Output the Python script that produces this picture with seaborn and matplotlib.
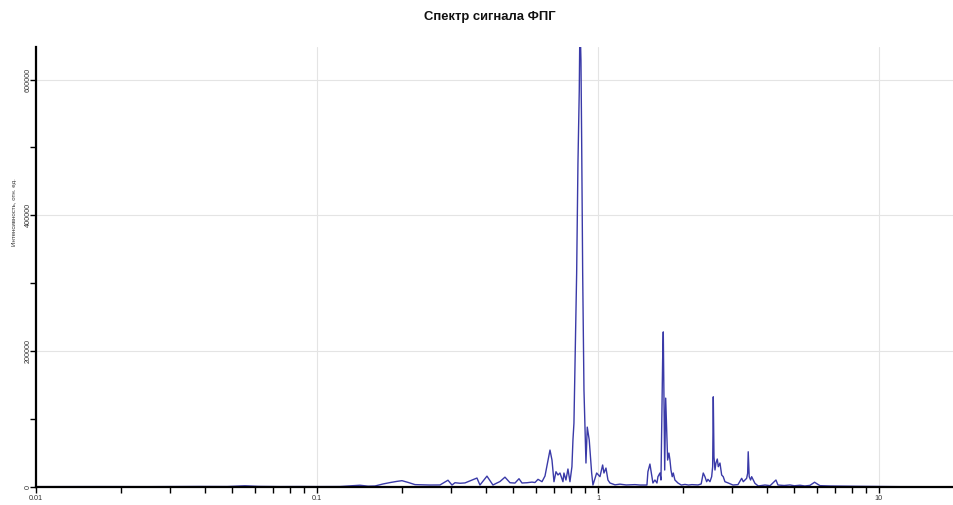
import matplotlib
matplotlib.use("Agg")
import matplotlib.pyplot as plt
import matplotlib.ticker as mticker
import seaborn as sns
import pandas as pd

# PPG signal spectrum: frequency (Hz) and intensity (arb. units)
freq_hz = [
    0.010, 0.0169, 0.0250, 0.0383, 0.0480, 0.0554, 0.0620, 0.0739, 0.0850, 0.100,
    0.1208, 0.1422, 0.1520, 0.1609, 0.1720, 0.1819, 0.1920, 0.2007, 0.2120, 0.2233,
    0.2524, 0.2740, 0.2926, 0.3023, 0.3098, 0.3230, 0.3363, 0.3710, 0.3802, 0.4027,
    0.4229, 0.4350, 0.4479, 0.4667, 0.4863, 0.5066, 0.5236, 0.5365, 0.5590, 0.5824,
    0.5969, 0.6118, 0.6322, 0.6479, 0.6750, 0.6861, 0.6974, 0.7089, 0.7206, 0.7325,
    0.7507, 0.7568, 0.7693, 0.7820, 0.7950, 0.8079, 0.8147, 0.8214, 0.8398, 0.8488,
    0.8580, 0.8629, 0.8700, 0.8750, 0.8823, 0.8917, 0.9064, 0.9161, 0.9311, 0.9497,
    0.9598, 0.9894, 1.0165, 1.0392, 1.0505, 1.0678, 1.0854, 1.1033, 1.150, 1.1976,
    1.260, 1.354, 1.411, 1.494, 1.506, 1.531, 1.556, 1.569, 1.595, 1.622,
    1.635, 1.662, 1.676, 1.690, 1.699, 1.708, 1.718, 1.728, 1.742, 1.756,
    1.770, 1.789, 1.804, 1.819, 1.838, 1.854, 1.879, 1.906, 1.926, 1.980,
    2.040, 2.100, 2.160, 2.270, 2.330, 2.370, 2.403, 2.437, 2.463, 2.504,
    2.539, 2.560, 2.573, 2.588, 2.609, 2.630, 2.659, 2.681, 2.718, 2.756,
    2.792, 2.831, 2.909, 3.023, 3.150, 3.247, 3.290, 3.335, 3.382, 3.410,
    3.426, 3.454, 3.494, 3.524, 3.570, 3.620, 3.719, 3.929, 4.100, 4.300,
    4.372, 4.600, 4.824, 5.000, 5.236, 5.450, 5.681, 5.900, 6.166, 6.691,
    7.568, 8.560, 10.08, 11.88, 18.49,
]
intensity = [
    500, 600, 500, 800, 700, 1800, 900, 600, 700, 600,
    700, 2600, 1200, 1500, 4500, 6500, 8200, 9300, 6500, 3500,
    2900, 3000, 10000, 2900, 6300, 5500, 6000, 13200, 2900, 16000,
    2900, 5500, 8000, 14500, 6300, 5800, 12200, 5900, 6300, 7200,
    6600, 11300, 7800, 16200, 54400, 39700, 7800, 22500, 17700, 20600,
    7800, 20600, 10300, 26500, 7800, 29900, 69100, 94100, 314700, 476500,
    583800, 690000, 627900, 510300, 314700, 142700, 35300, 88200, 69100, 20600,
    2900, 20600, 15200, 32400, 20600, 27900, 10300, 5900, 3200, 4200,
    3000, 3500, 2900, 2900, 22500, 33800, 15200, 5900, 10300, 5900,
    15200, 20600, 10300, 123500, 186800, 228400, 123500, 25000, 130900, 83800,
    39700, 50000, 39700, 25000, 15200, 20600, 10300, 7800, 5900, 2900,
    3800, 2900, 3500, 3000, 4500, 20600, 15200, 7800, 11300, 7800,
    15200, 29900, 132800, 44600, 25000, 35300, 41200, 29900, 35300, 17700,
    15200, 7800, 5900, 2900, 3500, 12800, 7800, 10300, 12800, 20200,
    51900, 15200, 10300, 15200, 10300, 5400, 1500, 2900, 2000, 10300,
    2900, 2200, 3000, 1800, 2600, 1500, 2400, 7000, 2000, 1500,
    1200, 1000, 700, 500, 400,
]

y_ticks = [0, 200000, 400000, 600000]
x_ticks = [0.01, 0.1, 1, 10]
x_tick_labels = ["0.01", "0.1", "1", "10"]

df = pd.DataFrame({"freq": freq_hz, "power": intensity})

sns.set_style("white")
plt.rcParams["font.family"] = ["Liberation Sans", "DejaVu Sans"]

fig = plt.figure(figsize=(9.54, 5.05), dpi=100)
ax = fig.add_axes([36 / 954, 1 - 487 / 505, 1 - 36 / 954, (487 - 47) / 505])

sns.lineplot(data=df, x="freq", y="power", ax=ax, color="#3a3aa8",
             linewidth=1.0, estimator=None, sort=True)

ax.set_xscale("log")
ax.set_xlim(0.01, 18.5)
ax.set_ylim(0, 648000)

ax.set_xticks(x_ticks)
ax.set_xticklabels(x_tick_labels)
ax.xaxis.set_minor_locator(mticker.LogLocator(base=10, subs=range(2, 10), numticks=20))
ax.xaxis.set_minor_formatter(mticker.NullFormatter())
ax.set_yticks(y_ticks)
ax.set_yticklabels([str(v) for v in y_ticks], rotation=90, va="center")
ax.yaxis.set_minor_locator(mticker.MultipleLocator(100000))

ax.tick_params(axis="both", which="both", direction="out", length=4, width=1,
               color="black", labelsize=5.2, labelcolor="#333333")
ax.tick_params(axis="x", which="both", bottom=True, pad=2)
ax.tick_params(axis="y", which="both", left=True, pad=-1)

ax.grid(True, which="major", color="#e4e4e4", linewidth=0.8)
ax.set_axisbelow(True)

for side in ("top", "right"):
    ax.spines[side].set_visible(False)
for side in ("left", "bottom"):
    ax.spines[side].set_color("black")
    ax.spines[side].set_linewidth(1.6)

ax.set_xlabel("")
ax.set_ylabel("Интенсивность, отн. ед.", fontsize=4.4, color="#333333")
ax.yaxis.set_label_coords(-0.0205, 0.625)

fig.suptitle("Спектр сигнала ФПГ", x=0.513, y=0.978, fontsize=9.4,
             fontweight="bold", color="#111111")

fig.savefig("out.png", dpi=100)
